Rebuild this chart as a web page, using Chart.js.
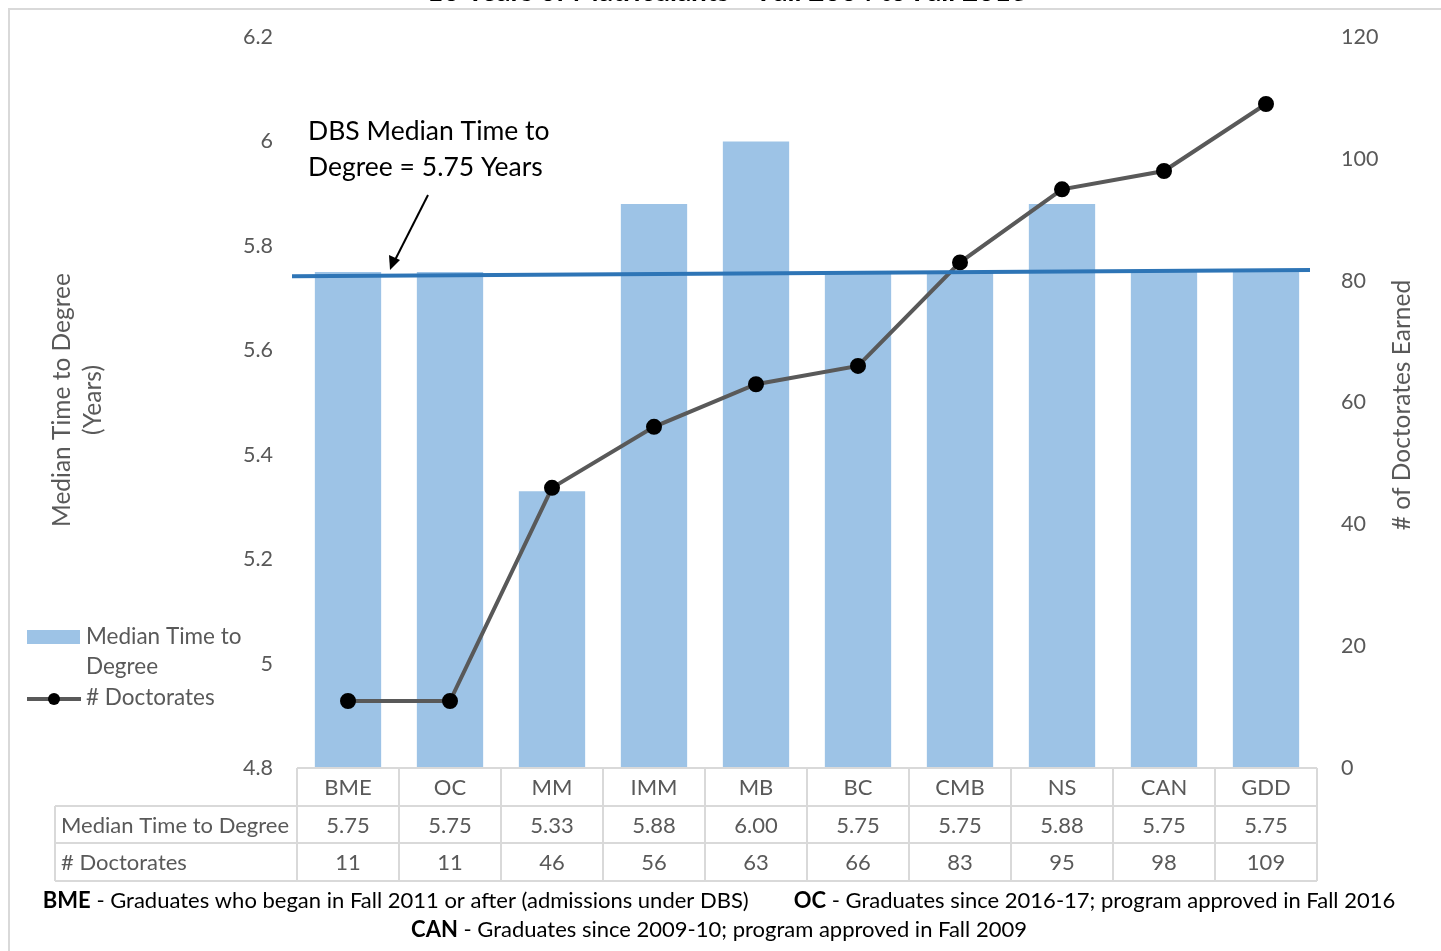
<!DOCTYPE html>
<html>
<head>
<meta charset="utf-8">
<script src="https://cdn.jsdelivr.net/npm/chart.js@4.4.1/dist/chart.umd.min.js"></script>
<style>
  html, body { margin: 0; padding: 0; background: #fff; }
  #wrap { width: 1441px; height: 951px; }
</style>
</head>
<body>
<div id="wrap"><canvas id="chart" width="1441" height="951"></canvas></div>
<script>
// ---------------------------------------------------------------------------- DATA
const programs = ['BME', 'OC', 'MM', 'IMM', 'MB', 'BC', 'CMB', 'NS', 'CAN', 'GDD'];
const medianYears = [5.75, 5.75, 5.33, 5.88, 6.00, 5.75, 5.75, 5.88, 5.75, 5.75];
const doctorates = [11, 11, 46, 56, 63, 66, 83, 95, 98, 109];
const dbsMedian = [5.742, 5.754];   // ends of the drawn DBS median line
const leftTicks = [4.8, 5, 5.2, 5.4, 5.6, 5.8, 6, 6.2];
const rightTicks = [0, 20, 40, 60, 80, 100, 120];

const FONT = 'Lato, "Open Sans", sans-serif';
const GREY = '#595959';
const BORDER = '#d9d9d9';

// ---------------------------------------------------------------------------- DRAWING HELPERS
// tout ce qui est autour de la zone du graphique : cadre, titre, légende, tableau, notes
const extras = {
    id: 'extras',
    beforeDraw(chart) {
        const c = chart.ctx;
        c.save();
        c.strokeStyle = BORDER;
        c.lineWidth = 2;
        c.beginPath();
        c.moveTo(9, 960);
        c.lineTo(9, 9);
        c.lineTo(1450, 9);
        c.stroke();
        // titre (coupé en haut)
        c.fillStyle = '#000';
        c.font = 'bold 28px ' + FONT;
        c.textAlign = 'center';
        c.textBaseline = 'bottom';
        c.fillText('10 Years of Matriculants \u2013 Fall 2004 to Fall 2013', 727, 6);
        c.restore();
    },
    afterDraw(chart) {
        const c = chart.ctx;
        const x = chart.scales.x;
        const y = chart.scales.y;
        const area = chart.chartArea;
        c.save();

        // ligne médiane DBS
        c.strokeStyle = '#2E75B6';
        c.lineWidth = 4;
        c.beginPath();
        c.moveTo(area.left - 5, y.getPixelForValue(dbsMedian[0]));
        c.lineTo(area.right - 7, y.getPixelForValue(dbsMedian[1]));
        c.stroke();

        // annotation + flèche
        c.fillStyle = '#000';
        c.font = '26.5px ' + FONT;
        c.textAlign = 'left';
        c.textBaseline = 'middle';
        c.fillText('DBS Median Time to', 308, 131);
        c.fillText('Degree = 5.75 Years', 308, 167);
        c.strokeStyle = '#000';
        c.lineWidth = 2;
        c.beginPath();
        c.moveTo(428, 195);
        c.lineTo(394, 262);
        c.stroke();
        c.beginPath();
        c.moveTo(390, 270);
        c.lineTo(389, 255);
        c.lineTo(400, 260);
        c.closePath();
        c.fill();

        // titres des axes
        c.fillStyle = GREY;
        c.font = '24.5px ' + FONT;
        c.textAlign = 'center';
        c.save();
        c.translate(62, 400);
        c.rotate(-Math.PI / 2);
        c.fillText('Median Time to Degree', 0, 0);
        c.fillText('(Years)', 0, 31);
        c.restore();
        c.save();
        c.translate(1402, 405);
        c.rotate(-Math.PI / 2);
        c.fillText('# of Doctorates Earned', 0, 0);
        c.restore();

        // légende
        c.fillStyle = '#9DC3E6';
        c.fillRect(27, 630, 53, 14);
        c.strokeStyle = GREY;
        c.lineWidth = 4;
        c.beginPath();
        c.moveTo(27, 699);
        c.lineTo(81, 699);
        c.stroke();
        c.fillStyle = '#000';
        c.beginPath();
        c.arc(54, 699, 6, 0, Math.PI * 2);
        c.fill();
        c.fillStyle = GREY;
        c.font = '22.5px ' + FONT;
        c.textAlign = 'left';
        c.fillText('Median Time to', 86, 637);
        c.fillText('Degree', 86, 667);
        c.fillText('# Doctorates', 86, 698);

        // tableau de données
        const rows = [768, 806, 843, 881];
        const colW = (area.right - area.left) / programs.length;
        c.strokeStyle = BORDER;
        c.lineWidth = 2;
        c.beginPath();
        c.moveTo(area.left, rows[0]);
        c.lineTo(area.right, rows[0]);
        for (let r = 1; r < rows.length; r++) {
            c.moveTo(55, rows[r]);
            c.lineTo(area.right, rows[r]);
        }
        for (let i = 0; i <= programs.length; i++) {
            const px = area.left + i * colW;
            c.moveTo(px, rows[0]);
            c.lineTo(px, rows[3]);
        }
        c.moveTo(55, rows[1]);
        c.lineTo(55, rows[3]);
        c.stroke();

        c.fillStyle = GREY;
        c.font = '22px ' + FONT;
        c.textAlign = 'left';
        c.fillText('Median Time to Degree', 61, (rows[1] + rows[2]) / 2 + 1);
        c.fillText('# Doctorates', 61, (rows[2] + rows[3]) / 2 + 1);
        c.textAlign = 'center';
        programs.forEach((p, i) => {
            const px = x.getPixelForValue(i);
            c.fillText(p, px, (rows[0] + rows[1]) / 2 + 1);
            c.fillText(medianYears[i].toFixed(2), px, (rows[1] + rows[2]) / 2 + 1);
            c.fillText(String(doctorates[i]), px, (rows[2] + rows[3]) / 2 + 1);
        });

        // notes en bas
        const notes = [
            [[['BME', true], [' - Graduates who began in Fall 2011 or after (admissions under DBS)', false],
              ['\u00a0\u00a0\u00a0\u00a0\u00a0\u00a0\u00a0\u00a0', false],
              ['OC', true], [' - Graduates since 2016-17; program approved in Fall 2016', false]], 901],
            [[['CAN', true], [' - Graduates since 2009-10; program approved in Fall 2009', false]], 930]
        ];
        c.fillStyle = '#000';
        c.textAlign = 'left';
        notes.forEach(([parts, py]) => {
            let total = 0;
            parts.forEach(([t, b]) => {
                c.font = (b ? 'bold ' : '') + '22px ' + FONT;
                total += c.measureText(t).width;
            });
            let px = 719 - total / 2;
            parts.forEach(([t, b]) => {
                c.font = (b ? 'bold ' : '') + '22px ' + FONT;
                c.fillText(t, px, py);
                px += c.measureText(t).width;
            });
        });
        c.restore();
    }
};

// ---------------------------------------------------------------------------- CHART
const ctx = document.getElementById('chart').getContext('2d');
const myChart = new Chart(ctx, {
    data: {
        labels: programs,
        datasets: [
            {
                type: 'line',
                label: '# Doctorates',
                data: doctorates,
                yAxisID: 'y1',
                borderColor: GREY,
                borderWidth: 4,
                pointRadius: 6,
                pointBackgroundColor: '#000',
                pointBorderColor: '#000',
                tension: 0,
                order: 0
            },
            {
                type: 'bar',
                label: 'Median Time to Degree',
                data: medianYears,
                yAxisID: 'y',
                backgroundColor: '#9DC3E6',
                barPercentage: 0.65,
                categoryPercentage: 1,
                order: 1
            }
        ]
    },
    options: {
        responsive: false,
        animation: false,
        layout: {
            padding: { left: 0, right: 0, top: 37, bottom: 183 }
        },
        plugins: {
            legend: { display: false },
            tooltip: { enabled: false }
        },
        scales: {
            x: {
                display: false
            },
            y: {
                position: 'left',
                min: 4.8,
                max: 6.2,
                afterFit: (s) => { s.width = 297; },
                afterBuildTicks: (s) => { s.ticks = leftTicks.map(v => ({ value: v })); },
                grid: { display: false },
                border: { display: false },
                ticks: {
                    color: GREY,
                    padding: 16,
                    font: { family: FONT, size: 21.5 },
                    callback: (v) => String(Math.round(v * 10) / 10)
                }
            },
            y1: {
                position: 'right',
                min: 0,
                max: 120,
                afterFit: (s) => { s.width = 124; },
                afterBuildTicks: (s) => { s.ticks = rightTicks.map(v => ({ value: v })); },
                grid: { display: false },
                border: { display: false },
                ticks: {
                    color: GREY,
                    padding: 16,
                    font: { family: FONT, size: 21.5 }
                }
            }
        }
    },
    plugins: [extras]
});
</script>
</body>
</html>
